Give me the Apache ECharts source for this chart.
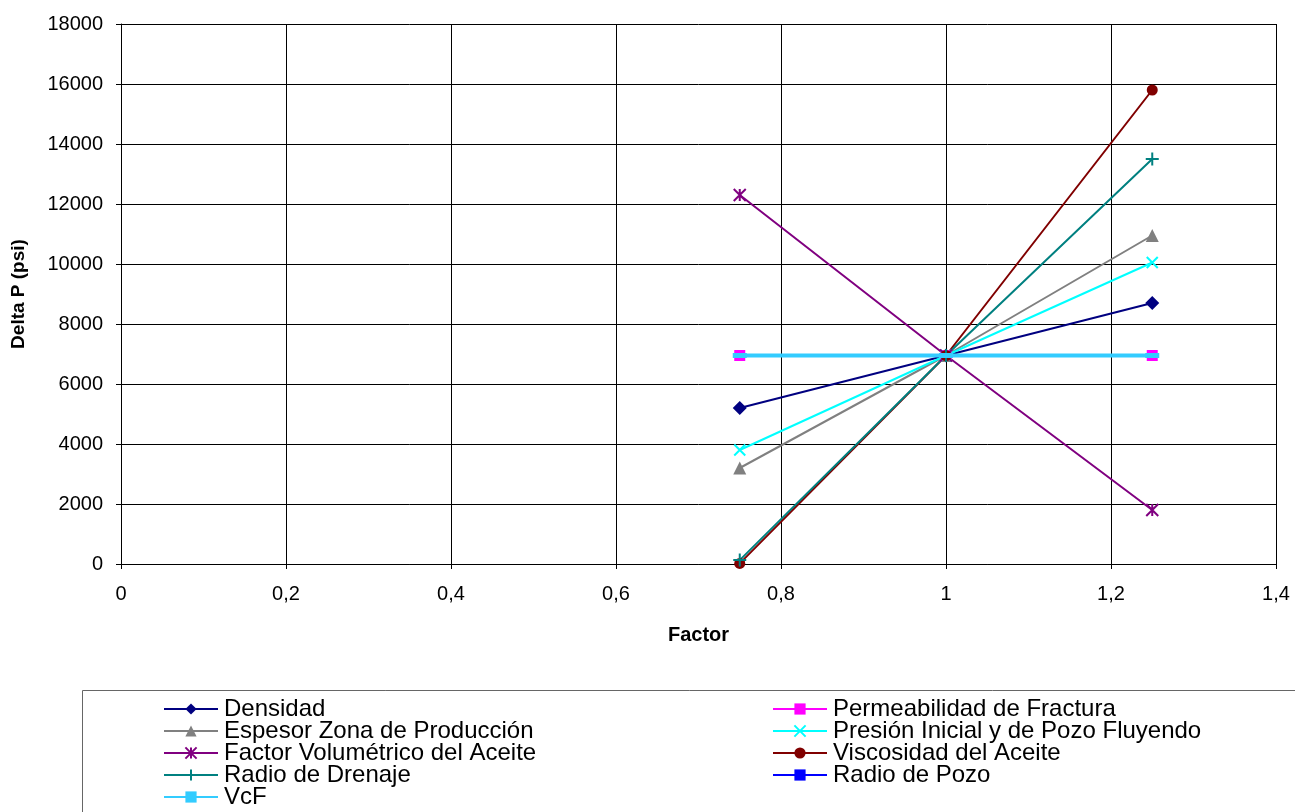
<!DOCTYPE html>
<html>
<head>
<meta charset="utf-8">
<script src="https://cdn.jsdelivr.net/npm/echarts@6/dist/echarts.min.js"></script>
<style>
  html, body { margin: 0; padding: 0; background: #fff; }
  #chart { width: 1295px; height: 812px; }
</style>
</head>
<body>
<div id="chart"></div>
<script>
// factor values (x) and Delta P (psi) per parameter
const factors = [0.75, 1, 1.25];
const densidad = [5200, 6950, 8700];
const permeabilidad = [6950, 6950, 6950];
const espesor = [3200, 6950, 10950];
const presion = [3800, 6950, 10050];
const factorVol = [12300, 6950, 1800];
const viscosidad = [20, 6950, 15800];
const radioDrenaje = [130, 6950, 13500];
const radioPozo = [6950, 6950, 6950];
const vcf = [6950, 6950, 6950];

const pair = vals => factors.map((f, i) => [f, vals[i]]);

const xPath = 'path://M0,0L10,10M10,0L0,10';
const starPath = 'path://M0,0L10,10M10,0L0,10M5,0L5,10';
const plusPath = 'path://M5,0L5,10M0,5L10,5';

function line(name, data, color, symbol, size, extra) {
    return Object.assign({
        name: name,
        type: 'line',
        data: pair(data),
        symbol: symbol,
        symbolSize: size,
        showAllSymbol: true,
        lineStyle: {color: color, width: 2},
        itemStyle: {color: color, borderColor: color, borderWidth: 0},
        emphasis: {disabled: true},
        animation: false
    }, extra || {});
}

const stroked = (color) => ({itemStyle: {color: color, borderColor: color, borderWidth: 2}});

const series = [
    line('Densidad', densidad, '#000080', 'diamond', 14),
    line('Permeabilidad de Fractura', permeabilidad, '#FF00FF', 'rect', 11),
    line('Espesor Zona de Producción', espesor, '#808080', 'triangle', 13),
    line('Presión Inicial y de Pozo Fluyendo', presion, '#00FFFF', xPath, 11, stroked('#00FFFF')),
    line('Factor Volumétrico del Aceite', factorVol, '#800080', starPath, 12, stroked('#800080')),
    line('Viscosidad del Aceite', viscosidad, '#800000', 'circle', 11),
    line('Radio de Drenaje', radioDrenaje, '#008080', plusPath, 13, stroked('#008080')),
    line('Radio de Pozo', radioPozo, '#0000FF', 'rect', [8, 4]),
    line('VcF', vcf, '#33CCFF', 'rect', [14, 5], {lineStyle: {color: '#33CCFF', width: 4}})
];

const col1 = ['Densidad', 'Espesor Zona de Producción', 'Factor Volumétrico del Aceite', 'Radio de Drenaje', 'VcF'];
const col2 = ['Permeabilidad de Fractura', 'Presión Inicial y de Pozo Fluyendo', 'Viscosidad del Aceite', 'Radio de Pozo'];

const legendBase = {
    orient: 'vertical',
    top: 697,
    height: 200,
    padding: 0,
    itemWidth: 54,
    itemHeight: 14,
    itemGap: -2,
    selectedMode: false,
    textStyle: {fontFamily: 'Arial, Liberation Sans', fontSize: 24, color: '#000', lineHeight: 22, padding: [0, 0, 0, 1]}
};

const chart = echarts.init(document.getElementById('chart'));
chart.setOption({
    backgroundColor: '#fff',
    textStyle: {fontFamily: 'Arial, Liberation Sans'},
    grid: {left: 121, right: 19, top: 24, bottom: 248},
    xAxis: {
        type: 'value',
        min: 0, max: 1.4, interval: 0.2,
        name: 'Factor',
        nameLocation: 'middle',
        nameGap: 61,
        nameTextStyle: {fontWeight: 'bold', fontSize: 20, color: '#000'},
        axisLine: {lineStyle: {color: '#000'}},
        axisTick: {show: true, lineStyle: {color: '#000'}},
        axisLabel: {
            color: '#000', fontSize: 20, margin: 20,
            formatter: v => String(Math.round(v * 10) / 10).replace('.', ',')
        },
        splitLine: {show: true, lineStyle: {color: '#000', width: 1}}
    },
    yAxis: {
        type: 'value',
        min: 0, max: 18000, interval: 2000,
        name: 'Delta P (psi)',
        nameLocation: 'middle',
        nameGap: 93,
        nameTextStyle: {fontWeight: 'bold', fontSize: 19, color: '#000'},
        axisLine: {show: true, lineStyle: {color: '#000'}},
        axisTick: {show: true, length: 5, lineStyle: {color: '#000'}},
        axisLabel: {color: '#000', fontSize: 20, margin: 18, formatter: v => String(v)},
        splitLine: {show: true, lineStyle: {color: '#000', width: 1}}
    },
    legend: [
        Object.assign({}, legendBase, {left: 163, data: col1}),
        Object.assign({}, legendBase, {left: 772, data: col2})
    ],
    graphic: [{
        type: 'rect',
        shape: {x: 82.5, y: 690.5, width: 1240, height: 140},
        style: {fill: 'none', stroke: '#666', lineWidth: 1},
        z: -1
    }],
    series: series
});
</script>
</body>
</html>
